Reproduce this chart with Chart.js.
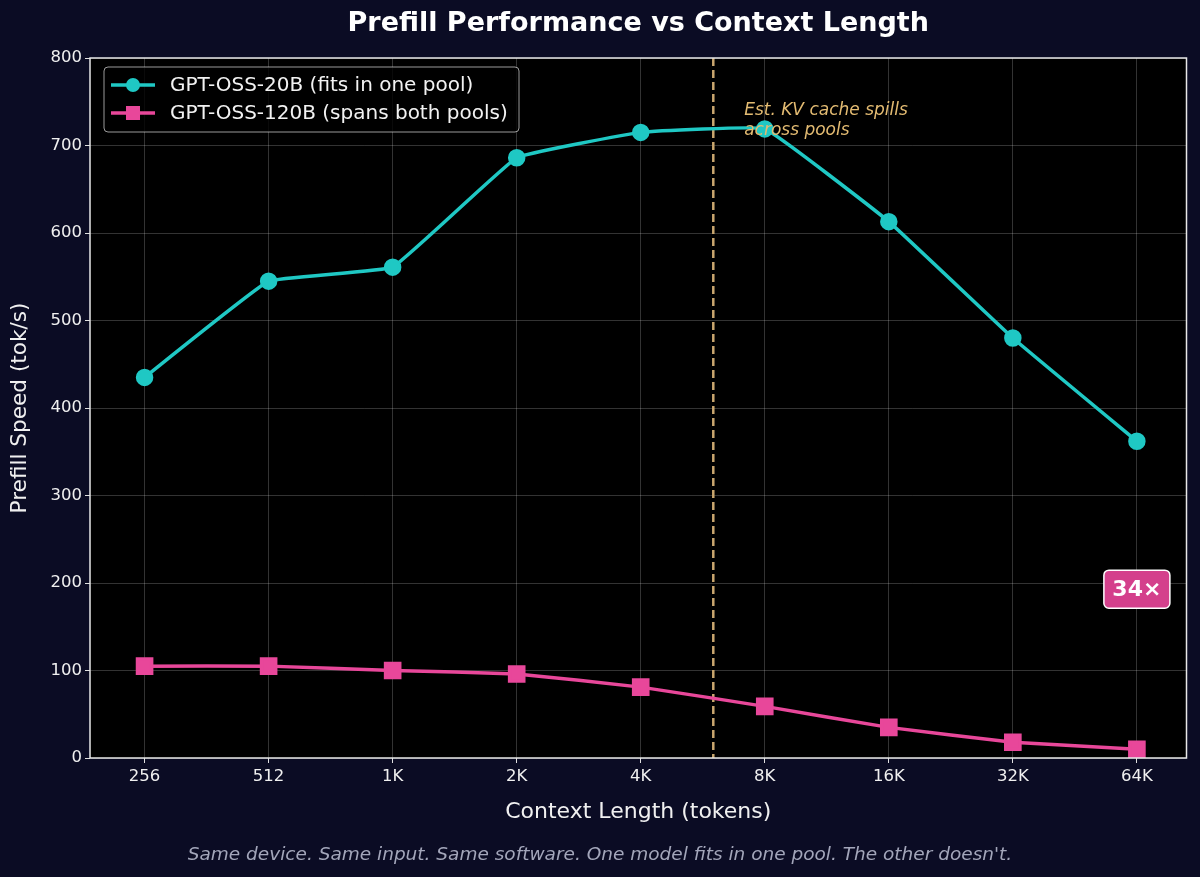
<!DOCTYPE html>
<html>
<head>
<meta charset="utf-8">
<script src="https://cdn.jsdelivr.net/npm/chart.js@4.4.1/dist/chart.umd.min.js"></script>
<style>
  html, body { margin: 0; padding: 0; background: #0b0c24; }
  #wrap { width: 1200px; height: 877px; }
</style>
</head>
<body>
<div id="wrap"><canvas id="prefillChart" width="1200" height="877"></canvas></div>
<script>
// context lengths (tokens) and tick labels
const contextTokens = [256, 512, 1024, 2048, 4096, 8192, 16384, 32768, 65536];
const xTickLabels = ["256", "512", "1K", "2K", "4K", "8K", "16K", "32K", "64K"];

// prefill speed, tok/s
const oss20b = [435, 545, 561, 686, 715, 719, 613, 480, 362];
const oss120b = [105, 105, 100, 96, 81, 59, 35, 18, 10];

const seriesLabels = ["GPT-OSS-20B (fits in one pool)", "GPT-OSS-120B (spans both pools)"];

const titleText = "Prefill Performance vs Context Length";
const footerText = "Same device. Same input. Same software. One model fits in one pool. The other doesn't.";

// annotations
const spillTokens = 6144;
const spillText = ["Est. KV cache spills", "across pools"];
const spillTextAt = { tokens: 7300, value: 729 };
const ratioText = "34\u00d7";
const ratioAt = { tokens: 65536, value: 193 };

const FONT = "'DejaVu Sans', Verdana, sans-serif";
const CYAN = "#1fc8c4";
const PINK = "#e8479a";
const GOLD = "#c9a66e";

function toPoints(values) {
    return contextTokens.map((t, i) => ({ x: Math.log2(t), y: values[i] }));
}

const chartBg = {
    id: "chartBg",
    beforeDraw(chart) {
        const { ctx, chartArea: a } = chart;
        ctx.save();
        ctx.fillStyle = "#0b0c24";
        ctx.fillRect(0, 0, chart.width, chart.height);
        ctx.fillStyle = "#000000";
        ctx.fillRect(a.left, a.top, a.right - a.left, a.bottom - a.top);
        ctx.restore();
    },
    beforeDatasetsDraw(chart) {
        const { ctx, chartArea: a, scales } = chart;
        const x = scales.x.getPixelForValue(Math.log2(spillTokens));
        ctx.save();
        ctx.strokeStyle = GOLD;
        ctx.lineWidth = 2.5;
        ctx.setLineDash([8, 4]);
        ctx.beginPath();
        ctx.moveTo(x, a.top);
        ctx.lineTo(x, a.bottom);
        ctx.stroke();
        ctx.restore();
    },
    afterDatasetsDraw(chart) {
        const { ctx, scales } = chart;
        const x = scales.x.getPixelForValue(Math.log2(spillTextAt.tokens));
        const y = scales.y.getPixelForValue(spillTextAt.value);
        ctx.save();
        ctx.fillStyle = "#e3bb72";
        ctx.font = "italic 17px " + FONT;
        ctx.textAlign = "left";
        ctx.textBaseline = "middle";
        ctx.fillText(spillText[0], x, y - 10);
        ctx.fillText(spillText[1], x, y + 10);
        ctx.restore();
    },
    afterDraw(chart) {
        const { ctx, chartArea: a, scales } = chart;
        ctx.save();

        // title over the plot area, footer over the page
        ctx.textAlign = "center";
        ctx.textBaseline = "middle";
        ctx.fillStyle = "#ffffff";
        ctx.font = "bold 27px " + FONT;
        ctx.fillText(titleText, (a.left + a.right) / 2, 24);
        ctx.fillStyle = "#a3a6ba";
        ctx.font = "italic 18.5px " + FONT;
        ctx.fillText(footerText, chart.width / 2, 855);

        // spines
        ctx.strokeStyle = "#e8e8e8";
        ctx.lineWidth = 1.5;
        ctx.strokeRect(a.left, a.top, a.right - a.left, a.bottom - a.top);

        // legend
        const lx = a.left + 14, ly = a.top + 9, lw = 415, lh = 65;
        ctx.beginPath();
        ctx.roundRect(lx, ly, lw, lh, 4);
        ctx.fillStyle = "rgba(0,0,0,0.8)";
        ctx.fill();
        ctx.strokeStyle = "rgba(220,220,220,0.7)";
        ctx.lineWidth = 1;
        ctx.stroke();
        ctx.font = "20px " + FONT;
        ctx.textAlign = "left";
        ctx.textBaseline = "middle";
        chart.data.datasets.forEach((ds, i) => {
            const cy = ly + 18 + i * 28;
            ctx.strokeStyle = ds.borderColor;
            ctx.lineWidth = 3.5;
            ctx.beginPath();
            ctx.moveTo(lx + 7, cy);
            ctx.lineTo(lx + 51, cy);
            ctx.stroke();
            ctx.fillStyle = ds.borderColor;
            ctx.beginPath();
            if (ds.pointStyle === "rect") {
                ctx.rect(lx + 22, cy - 7, 14, 14);
            } else {
                ctx.arc(lx + 29, cy, 7, 0, Math.PI * 2);
            }
            ctx.fill();
            ctx.fillStyle = "#f2f2f2";
            ctx.fillText(ds.label, lx + 66, cy + 1);
        });

        // ratio badge
        const bx = scales.x.getPixelForValue(Math.log2(ratioAt.tokens));
        const by = scales.y.getPixelForValue(ratioAt.value);
        ctx.beginPath();
        ctx.roundRect(bx - 33, by - 19, 66, 38, 5);
        ctx.fillStyle = "#d4408c";
        ctx.fill();
        ctx.strokeStyle = "#ffffff";
        ctx.lineWidth = 1.5;
        ctx.stroke();
        ctx.fillStyle = "#ffffff";
        ctx.font = "bold 22px " + FONT;
        ctx.textAlign = "center";
        ctx.fillText(ratioText, bx, by + 1);

        ctx.restore();
    }
};

const gridColor = "rgba(255,255,255,0.2)";

new Chart(document.getElementById("prefillChart"), {
    type: "line",
    data: {
        datasets: [
            {
                label: seriesLabels[0],
                data: toPoints(oss20b),
                borderColor: CYAN,
                backgroundColor: CYAN,
                borderWidth: 3.5,
                pointStyle: "circle",
                pointRadius: 7,
                pointHoverRadius: 7,
                tension: 0.08
            },
            {
                label: seriesLabels[1],
                data: toPoints(oss120b),
                borderColor: PINK,
                backgroundColor: PINK,
                borderWidth: 3.5,
                pointStyle: "rect",
                pointRadius: 10,
                pointHoverRadius: 10,
                tension: 0.08
            }
        ]
    },
    options: {
        responsive: false,
        animation: false,
        devicePixelRatio: 1,
        layout: { padding: { left: 0, right: 12, top: 58, bottom: 33.1 } },
        plugins: {
            legend: { display: false },
            tooltip: { enabled: false },
            title: { display: false }
        },
        scales: {
            x: {
                type: "linear",
                min: 7.56,
                max: 16.4,
                afterBuildTicks(scale) {
                    scale.ticks = contextTokens.map(t => ({ value: Math.log2(t) }));
                },
                afterFit(scale) { scale.height = 85.9; },
                ticks: {
                    color: "#f0f0f0",
                    font: { family: FONT, size: 16.5 },
                    padding: 4,
                    maxRotation: 0,
                    callback(value) {
                        const i = contextTokens.findIndex(t => Math.abs(Math.log2(t) - value) < 1e-6);
                        return i >= 0 ? xTickLabels[i] : "";
                    }
                },
                grid: { color: gridColor, tickColor: "#e0e0e0", tickLength: 5 },
                border: { display: false },
                title: {
                    display: true,
                    text: "Context Length (tokens)",
                    color: "#f0f0f0",
                    font: { family: FONT, size: 22 },
                    padding: { top: 0, bottom: 18.2 }
                }
            },
            y: {
                min: 0,
                max: 800,
                afterFit(scale) { scale.width = 90; },
                ticks: {
                    stepSize: 100,
                    color: "#f0f0f0",
                    font: { family: FONT, size: 16.5 },
                    padding: 3
                },
                grid: { color: gridColor, tickColor: "#e0e0e0", tickLength: 5 },
                border: { display: false },
                title: {
                    display: true,
                    text: "Prefill Speed (tok/s)",
                    color: "#f0f0f0",
                    font: { family: FONT, size: 21.6 },
                    padding: { top: 7, bottom: 0 }
                }
            }
        }
    },
    plugins: [chartBg]
});
</script>
</body>
</html>
